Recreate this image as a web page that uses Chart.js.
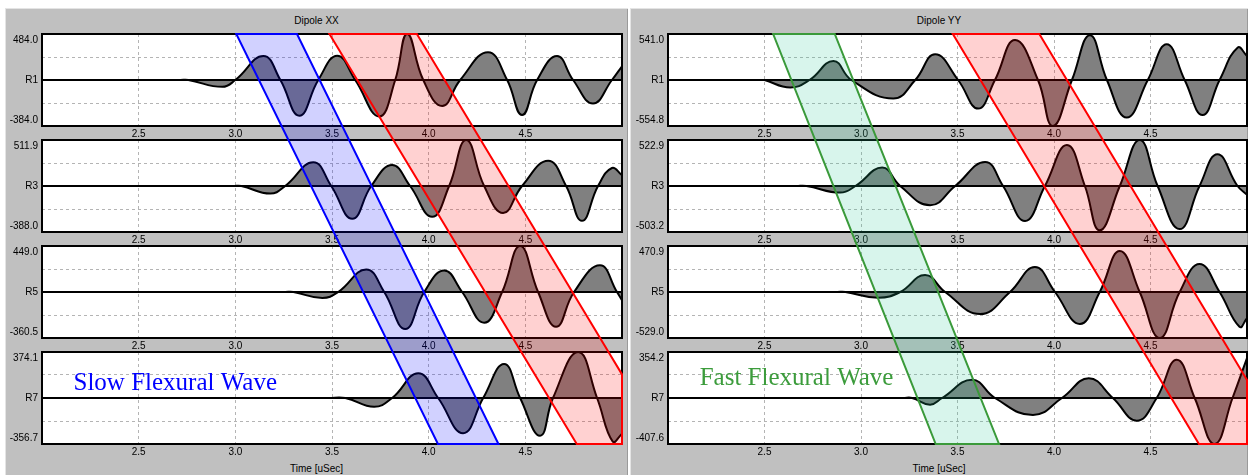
<!DOCTYPE html>
<html>
<head>
<meta charset="utf-8">
<script src="https://cdn.jsdelivr.net/npm/chart.js@4.4.0/dist/chart.umd.min.js"></script>
<style>
  body { margin: 0; width: 1248px; height: 475px; overflow: hidden; background: #fff;
         font-family: "Liberation Sans", Arial, sans-serif; }
  .panel { position: absolute; top: 8px; height: 467px; background: #c0c0c0;
           box-shadow: inset 1px 1px 0 #e4e4e4, inset -1px 0 0 #9a9a9a; }
  .panel canvas { position: absolute; }
  .title, .axis-title { position: absolute; left: 0; right: 0; text-align: center;
                        font-size: 10px; line-height: 12px; color: #000; }
  .title { top: 7px; }
  .axis-title { top: 455px; }
</style>
</head>
<body>
<div class="panel" id="xx" style="left:5px;width:623px">
  <div class="title">Dipole XX</div>
  <canvas id="xx0" width="620" height="106" style="left:1px;top:25px"></canvas>
  <canvas id="xx1" width="620" height="106" style="left:1px;top:131px"></canvas>
  <canvas id="xx2" width="620" height="106" style="left:1px;top:237px"></canvas>
  <canvas id="xx3" width="620" height="106" style="left:1px;top:343px"></canvas>
  <div class="axis-title">Time [uSec]</div>
</div>
<div class="panel" id="yy" style="left:630px;width:618px">
  <div class="title">Dipole YY</div>
  <canvas id="yy0" width="616" height="106" style="left:2px;top:25px"></canvas>
  <canvas id="yy1" width="616" height="106" style="left:2px;top:131px"></canvas>
  <canvas id="yy2" width="616" height="106" style="left:2px;top:237px"></canvas>
  <canvas id="yy3" width="616" height="106" style="left:2px;top:343px"></canvas>
  <div class="axis-title">Time [uSec]</div>
</div>
<script>
// receivers and time axis
const receivers = ['R1', 'R3', 'R5', 'R7'];
const timeTicks = [2.5, 3.0, 3.5, 4.0, 4.5];
const timeMin = 2.0;
const timeMax = 5.0;

// Dipole XX waveforms (time in uSec, amplitude)
const xxR1Time = [2.716, 2.757, 2.933, 3.000, 3.145, 3.233, 3.331, 3.429, 3.527, 3.620, 3.744, 3.827, 3.889, 3.972, 4.070, 4.163, 4.307, 4.406, 4.483, 4.561, 4.664, 4.747, 4.850, 4.948, 5.000];
const xxR1Amp  = [0, 0, -72, 0, 252, 0, -376, 0, 255, 0, -384, 0, 484, 0, -274, 0, 293, 0, -368, 0, 252, 0, -247, 0, 145];
const xxR3Time = [2.990, 3.031, 3.181, 3.258, 3.403, 3.496, 3.605, 3.703, 3.811, 3.904, 4.018, 4.106, 4.194, 4.287, 4.385, 4.483, 4.618, 4.711, 4.793, 4.876, 4.948, 5.000];
const xxR3Amp  = [0, 0, -84, 0, 264, 0, -365, 0, 233, 0, -343, 0, 511.9, 0, -300, 0, 280, 0, -388, 0, 200, 120];
const xxR5Time = [3.258, 3.300, 3.450, 3.532, 3.677, 3.770, 3.879, 3.977, 4.080, 4.173, 4.287, 4.380, 4.473, 4.566, 4.659, 4.752, 4.886, 4.974, 5.000];
const xxR5Amp  = [0, 0, -58, 0, 220, 0, -360.5, 0, 210, 0, -300, 0, 449, 0, -340, 0, 260, 0, -80];
const xxR7Time = [3.481, 3.569, 3.718, 3.811, 3.946, 4.049, 4.178, 4.282, 4.390, 4.473, 4.576, 4.643, 4.773, 4.871, 4.953, 5.000];
const xxR7Amp  = [0, 0, -71, 0, 201, 0, -287, 0, 277, 0, -307, 0, 374.1, 0, -356.7, -290];
const xxMax = [484.0, 511.9, 449.0, 374.1];
const xxMin = [-384.0, -388.0, -360.5, -356.7];

// Dipole YY waveforms
const yyR1Time = [2.500, 2.634, 2.733, 2.857, 2.950, 3.167, 3.281, 3.384, 3.503, 3.607, 3.694, 3.798, 3.917, 3.994, 4.093, 4.186, 4.274, 4.377, 4.486, 4.584, 4.677, 4.770, 4.858, 4.951, 5.000];
const yyR1Amp  = [0, -90, 0, 229, 0, -224, 0, 310, 0, -345, 0, 482, 0, -554.8, 0, 541, 0, -453, 0, 431, 0, -422, 0, 390, 290];
const yyR3Time = [2.665, 2.717, 2.893, 2.971, 3.110, 3.203, 3.358, 3.488, 3.643, 3.736, 3.850, 3.953, 4.067, 4.160, 4.237, 4.341, 4.444, 4.537, 4.651, 4.754, 4.847, 4.951, 5.000];
const yyR3Amp  = [0, 0, -75, 0, 209, 0, -219, 0, 272, 0, -398, 0, 465, 0, -503.2, 0, 522.9, 0, -490, 0, 360, 0, -100];
const yyR5Time = [2.877, 2.919, 3.089, 3.203, 3.332, 3.436, 3.617, 3.772, 3.901, 4.005, 4.134, 4.237, 4.341, 4.444, 4.548, 4.651, 4.754, 4.858, 4.961, 5.000];
const yyR5Amp  = [0, 0, -65, 0, 196, 0, -253, 0, 287, 0, -368, 0, 470.9, 0, -529, 0, 322, 0, -400, -300];
const yyR7Time = [3.219, 3.265, 3.358, 3.420, 3.576, 3.694, 3.891, 4.041, 4.180, 4.305, 4.429, 4.532, 4.636, 4.729, 4.832, 4.925, 5.000];
const yyR7Amp  = [0, 0, -59, 0, 162, 0, -151, 0, 174, 0, -201, 0, 340, 0, -407.6, 0, 354.2];
const yyMax = [541.0, 522.9, 470.9, 354.2];
const yyMin = [-554.8, -503.2, -529.0, -407.6];

// moveout bands: time at top of R1 and at bottom of R7 (left edge, right edge)
const slowBandTop = [3.005, 3.319];
const slowBandBottom = [4.048, 4.361];
const xxLateBandTop = [3.487, 3.939];
const xxLateBandBottom = [4.766, 5.217];
const fastBandTop = [2.545, 2.864];
const fastBandBottom = [3.387, 3.715];
const yyLateBandTop = [3.476, 3.924];
const yyLateBandBottom = [4.751, 5.199];

Chart.defaults.font.family = '"Liberation Sans", Arial, sans-serif';
Chart.defaults.font.size = 10;
Chart.defaults.color = '#000';

const panels = {};

// clip polygon (time, fraction) against time <= limit
function clipRight(poly, limit) {
  const out = [];
  for (let i = 0; i < poly.length; i++) {
    const a = poly[i], b = poly[(i + 1) % poly.length];
    const ain = a[0] <= limit, bin = b[0] <= limit;
    if (ain) out.push(a);
    if (ain !== bin) {
      const k = (limit - a[0]) / (b[0] - a[0]);
      out.push([limit, a[1] + k * (b[1] - a[1])]);
    }
  }
  return out;
}

const framePlugin = {
  id: 'frame',
  beforeDraw(chart) {
    const { ctx, chartArea: a } = chart;
    ctx.save();
    ctx.fillStyle = '#fff';
    ctx.fillRect(a.left, a.top, a.right - a.left, a.bottom - a.top);
    ctx.restore();
  },
  afterDatasetsDraw(chart) {
    const { ctx, chartArea: a } = chart;
    ctx.save();
    ctx.strokeStyle = '#000';
    ctx.lineWidth = 2;
    ctx.strokeRect(a.left, a.top, a.right - a.left, a.bottom - a.top);
    ctx.restore();
  }
};

const waveLabelPlugin = {
  id: 'waveLabel',
  afterDatasetsDraw(chart, args, opts) {
    if (!opts.text) return;
    const { ctx, scales } = chart;
    ctx.save();
    ctx.font = '25px "Liberation Serif", "Times New Roman", serif';
    ctx.fillStyle = opts.color;
    ctx.textBaseline = 'alphabetic';
    ctx.fillText(opts.text, scales.x.getPixelForValue(opts.t), scales.y.getPixelForValue(opts.amp));
    ctx.restore();
  }
};

const bandPlugin = {
  id: 'bands',
  afterDraw(chart) {
    const panel = panels[chart.canvas.id.slice(0, 2)];
    if (!panel || !panel.span) return;
    const { ctx } = chart;
    const xs = chart.scales.x;
    const top = chart.canvas.getBoundingClientRect().top;
    const y0 = panel.span[0] - top, y1 = panel.span[1] - top;
    panel.bands.forEach(b => {
      const poly = clipRight([[b.top[0], 0], [b.top[1], 0], [b.bottom[1], 1], [b.bottom[0], 1]], timeMax);
      ctx.save();
      ctx.beginPath();
      poly.forEach(([t, f], i) => {
        const px = xs.getPixelForValue(t), py = y0 + f * (y1 - y0);
        if (i) ctx.lineTo(px, py); else ctx.moveTo(px, py);
      });
      ctx.closePath();
      ctx.fillStyle = b.fill;
      ctx.fill();
      ctx.strokeStyle = b.stroke;
      ctx.lineWidth = 2;
      ctx.stroke();
      ctx.restore();
    });
  }
};

function makeTrace(panel, row, time, amp, hi, lo, label) {
  const lim = Math.max(Math.abs(hi), Math.abs(lo));
  const name = receivers[row];
  const points = time.map((t, i) => ({ x: t, y: amp[i] }));
  return new Chart(document.getElementById(panel.id + row), {
    type: 'line',
    data: {
      datasets: [
        { data: [{ x: timeMin, y: 0 }, { x: timeMax, y: 0 }], borderColor: '#000', borderWidth: 2,
          pointRadius: 0, fill: false, order: 0 },
        { data: points, borderColor: '#000', borderWidth: 2, backgroundColor: '#808080',
          fill: 'origin', pointRadius: 0, tension: 0.45, order: 1 }
      ]
    },
    options: {
      responsive: false,
      animation: false,
      events: [],
      layout: { padding: { top: 1, right: panel.padRight, left: 0, bottom: 0 } },
      plugins: {
        legend: { display: false },
        tooltip: { enabled: false },
        waveLabel: label || {}
      },
      scales: {
        x: {
          type: 'linear', min: timeMin, max: timeMax,
          afterBuildTicks: s => { s.ticks = timeTicks.map(v => ({ value: v })); },
          afterFit: s => { s.height = 13; s.paddingLeft = 0; s.paddingRight = 0; },
          ticks: { callback: v => v.toFixed(1), padding: 2, maxRotation: 0, autoSkip: false },
          grid: { color: '#b4b4b4', drawTicks: false, lineWidth: 1 },
          border: { display: false, dash: [3, 3] }
        },
        y: {
          type: 'linear', min: -lim, max: lim,
          afterBuildTicks: s => { s.ticks = [-lim, -lim / 2, 0, lim / 2, lim].map(v => ({ value: v })); },
          afterFit: s => { s.width = 36; s.paddingTop = 0; s.paddingBottom = 0; },
          ticks: {
            padding: 4, autoSkip: false,
            callback: v => v === lim ? ['', hi.toFixed(1)] : v === -lim ? [lo.toFixed(1), ''] : v === 0 ? name : ''
          },
          grid: {
            drawTicks: false,
            color: c => c.tick && Math.abs(c.tick.value) === lim / 2 ? '#b4b4b4' : 'rgba(0,0,0,0)'
          },
          border: { display: false, dash: [3, 3] }
        }
      }
    },
    plugins: [framePlugin, waveLabelPlugin, bandPlugin]
  });
}

panels.xx = {
  id: 'xx', padRight: 4,
  bands: [
    { top: slowBandTop, bottom: slowBandBottom, fill: 'rgba(0,0,255,0.18)', stroke: '#0000ff' },
    { top: xxLateBandTop, bottom: xxLateBandBottom, fill: 'rgba(255,0,0,0.18)', stroke: '#ff0000' }
  ]
};
panels.yy = {
  id: 'yy', padRight: 1,
  bands: [
    { top: fastBandTop, bottom: fastBandBottom, fill: 'rgba(40,200,150,0.18)', stroke: '#3a9a3a' },
    { top: yyLateBandTop, bottom: yyLateBandBottom, fill: 'rgba(255,0,0,0.18)', stroke: '#ff0000' }
  ]
};

const xxCharts = [
  makeTrace(panels.xx, 0, xxR1Time, xxR1Amp, xxMax[0], xxMin[0]),
  makeTrace(panels.xx, 1, xxR3Time, xxR3Amp, xxMax[1], xxMin[1]),
  makeTrace(panels.xx, 2, xxR5Time, xxR5Amp, xxMax[2], xxMin[2]),
  makeTrace(panels.xx, 3, xxR7Time, xxR7Amp, xxMax[3], xxMin[3],
            { text: 'Slow Flexural Wave', t: 2.163, amp: 69, color: '#0000ff' })
];
const yyCharts = [
  makeTrace(panels.yy, 0, yyR1Time, yyR1Amp, yyMax[0], yyMin[0]),
  makeTrace(panels.yy, 1, yyR3Time, yyR3Amp, yyMax[1], yyMin[1]),
  makeTrace(panels.yy, 2, yyR5Time, yyR5Amp, yyMax[2], yyMin[2]),
  makeTrace(panels.yy, 3, yyR7Time, yyR7Amp, yyMax[3], yyMin[3],
            { text: 'Fast Flexural Wave', t: 2.164, amp: 111, color: '#3c9c3c' })
];

// bands run from top of R1 to bottom of R7, so redraw once every chart is laid out
[[panels.xx, xxCharts], [panels.yy, yyCharts]].forEach(([p, charts]) => {
  const first = charts[0], last = charts[3];
  p.span = [first.canvas.getBoundingClientRect().top + first.chartArea.top,
            last.canvas.getBoundingClientRect().top + last.chartArea.bottom];
  charts.forEach(c => c.draw());
});
</script>
</body>
</html>
